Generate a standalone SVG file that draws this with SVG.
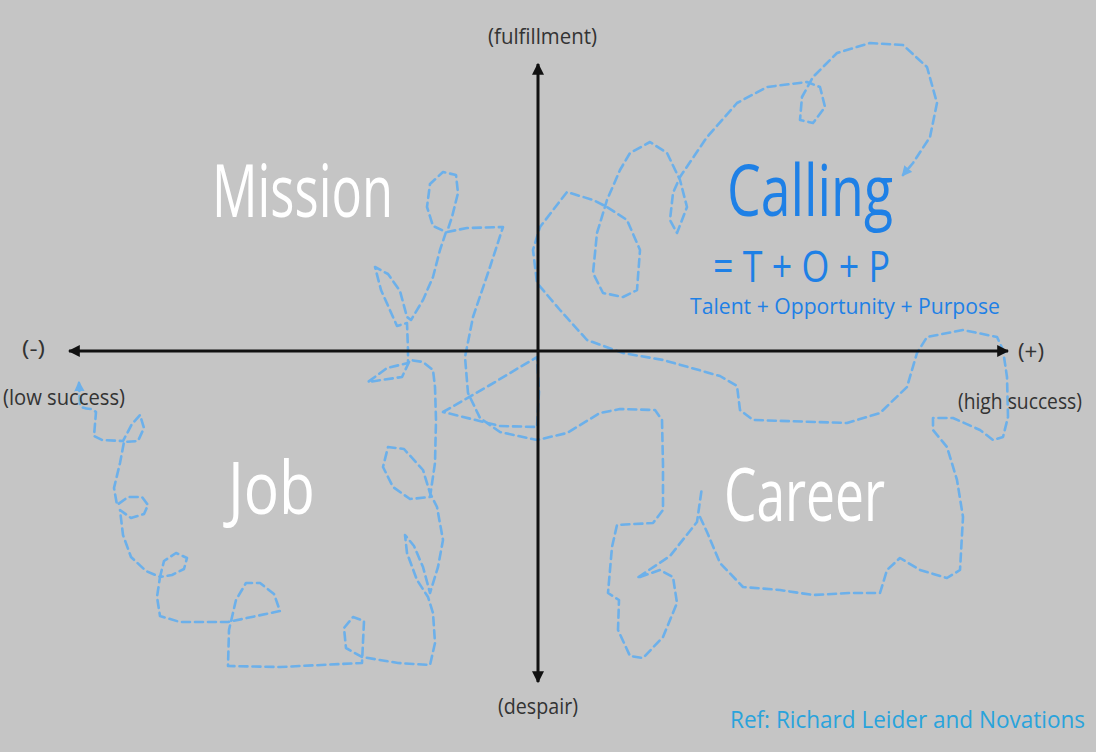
<svg xmlns="http://www.w3.org/2000/svg" width="1096" height="752" viewBox="0 0 1096 752">
  <style>
    .axis { stroke: #111; stroke-width: 3; fill: none; }
    .trail { stroke: #6cb0ea; stroke-width: 2.6; fill: none; stroke-dasharray: 8 5; stroke-linejoin: round; stroke-linecap: round; }
    .lbl { font-family: "Open Sans", "Liberation Sans", sans-serif; fill: #333; font-size: 22px; }
    .quad { font-family: "Open Sans", "Liberation Sans", sans-serif; fill: #fff; font-size: 74px; }
    .blue { font-family: "Open Sans", "Liberation Sans", sans-serif; fill: #1e80e6; }
  </style>
  <defs>
    <marker id="axisHead" viewBox="0 0 10 10" refX="9" refY="5" markerWidth="4" markerHeight="4" orient="auto-start-reverse" markerUnits="strokeWidth">
      <path d="M0,0 L10,5 L0,10 z" fill="#111"/>
    </marker>
    <marker id="trailHead" viewBox="0 0 10 10" refX="8" refY="5" markerWidth="4" markerHeight="4" orient="auto-start-reverse" markerUnits="strokeWidth">
      <path d="M0,0 L10,5 L0,10 z" fill="#6cb0ea"/>
    </marker>
  </defs>

  <rect width="1096" height="752" fill="#c5c5c5"/>

  <!-- career trail -->
  <g id="trail">
    <path class="trail" marker-start="url(#trailHead)" d="M79,383 L80,405 Q82,409 92,409 L96,412 L94,436 L102,440 L123,441
      L132,424 L140,415 L144,428 L138,441 L124,442
      L120,463 L114,488 L117,505
      L128,497 L142,497 L148,505 L144,514 L131,518 L120,510
      L123,535 L131,557 L146,571 L160,577
      L164,561 L176,553 L187,558 L184,569 L172,575 L160,577
      L157,597 L160,616 L180,622 L228,622 L280,611
      L274,594 L260,583 L246,583 L236,600 L229,630
      L228,666 L280,667 L362,663
      L364,621 L353,617 L344,628 L346,648 L362,657
      L398,663 L430,665 L435,643 L433,613 L428,597
      L417,580 L407,553 L405,535 L414,546 L423,567 L430,593
      L438,567 L443,540 L437,507 L430,493
      L423,470 L404,449 L388,447 L383,467 L393,487 L410,499 L430,497
      L435,463 L436,420 L435,387 L433,370 L423,362 L410,360
      L402,377 L368,382 L387,368 L408,363
      L408,350 L407,323
      L397,326 L381,290 L375,267 L388,274 L400,291 L407,317
      L411,320 L423,300 L433,277 L440,250 L446,232
      L433,226 L427,207 L430,184 L443,172 L456,175 L458,193 L452,217 L447,232
      L467,228 L503,227
      L490,267 L473,317 L465,357 L468,393 L480,418 L500,432 L537,440 L567,433 L600,413 L620,409 L655,410 L662,420 L663,465 L663,510 L653,523 L617,525 L612,547 L608,593
      L619,600 L618,630 L630,656 L643,658 L663,637 L677,603 L673,577 L660,570 L637,578
      L670,556 L697,522 L702,487"/>
    <path class="trail" d="M443,412 L490,385 L537,357 L539,392 L537,427 L500,426 Z"/>
    <path class="trail" marker-end="url(#trailHead)" d="M700,517 L707,532 L720,563 L743,587 L780,590 L813,595 L850,593 L880,593 L887,570 L900,558 L920,570 L947,578 L960,570 L963,517 L957,480 L947,447 L933,430 L933,418 L953,418 L980,430 L993,440 L1003,437 L1008,417 L1007,377 L1003,350 L997,337 L963,330 L927,337 L917,353 L907,387 L880,413 L847,423 L753,420 L740,410 L737,386 L720,376 L663,360 L623,353 L587,340 L560,310 L537,283 L533,250 L540,227 L567,192 L593,200 L607,207 L627,220 L640,250 L637,290 L623,297 L603,293 L593,273 L597,233 L607,200 L620,170 L630,153 L650,142 L667,153 L680,180 L687,207 L677,233 L670,220 L673,193 L680,177 L707,137 L737,103 L767,87 L807,82 L820,87 L825,107 L813,123 L800,120 L802,97 L813,77 L837,53 L870,43 L903,45 L927,67 L937,103 L930,137 L913,163 L903,175"/>
  </g>

  <!-- axes -->
  <g id="axes">
    <line class="axis" x1="538" y1="64" x2="538" y2="682" marker-start="url(#axisHead)" marker-end="url(#axisHead)"/>
    <line class="axis" x1="69" y1="351" x2="1008" y2="351" marker-start="url(#axisHead)" marker-end="url(#axisHead)"/>
  </g>

  <!-- axis labels -->
  <g id="axis-labels">
    <text class="lbl" x="488" y="44" textLength="109" lengthAdjust="spacingAndGlyphs">(fulfillment)</text>
    <text class="lbl" x="498" y="714" textLength="80" lengthAdjust="spacingAndGlyphs">(despair)</text>
    <text class="lbl" x="22" y="356" textLength="23" lengthAdjust="spacingAndGlyphs">(-)</text>
    <text class="lbl" x="3" y="405" textLength="122" lengthAdjust="spacingAndGlyphs">(low success)</text>
    <text class="lbl" x="1018" y="359" textLength="26" lengthAdjust="spacingAndGlyphs">(+)</text>
    <text class="lbl" x="958" y="409" textLength="124" lengthAdjust="spacingAndGlyphs">(high success)</text>
  </g>

  <!-- quadrants -->
  <g id="mission"><text class="quad" x="212" y="217" textLength="181" lengthAdjust="spacingAndGlyphs">Mission</text></g>
  <g id="job"><text class="quad" x="228" y="514" textLength="87" lengthAdjust="spacingAndGlyphs">Job</text></g>
  <g id="career"><text class="quad" x="724" y="521" textLength="161" lengthAdjust="spacingAndGlyphs">Career</text></g>
  <g id="calling">
    <text class="blue" x="727" y="216" font-size="72" textLength="166" lengthAdjust="spacingAndGlyphs">Calling</text>
    <text class="blue" x="713" y="282" font-size="44" textLength="177" lengthAdjust="spacingAndGlyphs">= T + O + P</text>
    <text class="blue" x="690" y="314" font-size="22" textLength="310" lengthAdjust="spacingAndGlyphs">Talent + Opportunity + Purpose</text>
  </g>

  <text x="730" y="728" font-family="Open Sans, Liberation Sans, sans-serif" font-size="23" fill="#29a3dc" textLength="355" lengthAdjust="spacingAndGlyphs">Ref: Richard Leider and Novations</text>
</svg>
